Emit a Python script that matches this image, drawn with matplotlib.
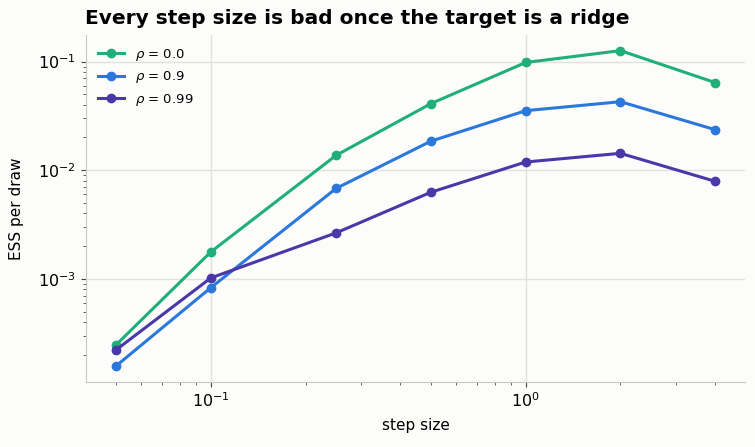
import numpy as np
import matplotlib.pyplot as plt

step_size = [0.05, 0.1, 0.25, 0.5, 1.0, 2.0, 4.0]
ess_rho_0 = [2.47e-4, 1.77e-3, 1.37e-2, 4.1e-2, 9.8e-2, 1.26e-1, 6.4e-2]
ess_rho_09 = [1.58e-4, 8.3e-4, 6.8e-3, 1.85e-2, 3.53e-2, 4.27e-2, 2.36e-2]
ess_rho_099 = [2.22e-4, 1.02e-3, 2.65e-3, 6.27e-3, 1.19e-2, 1.43e-2, 7.9e-3]

labels = [r'$\rho$ = 0.0', r'$\rho$ = 0.9', r'$\rho$ = 0.99']
colors = ['#1fae7c', '#2b78dc', '#4a37a8']

bg = '#fcfcfa'
fig, ax = plt.subplots(figsize=(7.55, 4.47), dpi=100)
fig.patch.set_facecolor(bg)
ax.set_facecolor(bg)

for ys, lab, c in zip([ess_rho_0, ess_rho_09, ess_rho_099], labels, colors):
    ax.plot(step_size, ys, marker='o', markersize=6, linewidth=2.2, color=c, label=lab)

ax.set_xscale('log')
ax.set_yscale('log')
ax.grid(True, which='major', color='#e2e2dc', linewidth=1)
ax.set_axisbelow(True)
for s in ['top', 'right']:
    ax.spines[s].set_visible(False)
for s in ['left', 'bottom']:
    ax.spines[s].set_color('#c8c8c0')
ax.tick_params(which='both', color='#444444')
ax.tick_params(which='major', labelsize=11.5)

ax.set_xlabel('step size', fontsize=11, labelpad=6)
ax.set_ylabel('ESS per draw', fontsize=11, labelpad=10)
ax.set_title('Every step size is bad once the target is a ridge', fontsize=14.5,
             fontweight='bold', loc='left', x=-0.002, pad=8)
ax.legend(loc='upper left', frameon=False, fontsize=9.5)

fig.subplots_adjust(left=0.114, right=0.987, top=0.922, bottom=0.146)
fig.savefig('out.png', dpi=100, facecolor=bg)
